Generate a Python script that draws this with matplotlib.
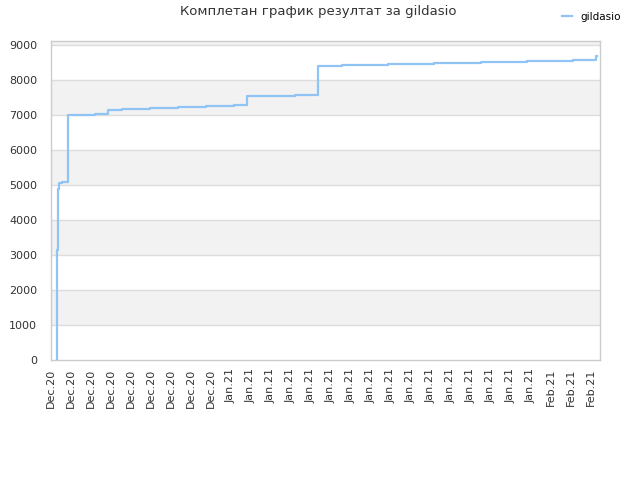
import matplotlib
matplotlib.use("Agg")
import matplotlib.pyplot as plt

# step positions (in tick units) and the score after each step
step_pos = [0.275, 0.285, 0.335, 0.385, 0.55, 0.835, 0.85, 2.2, 2.5, 2.85, 3.55,
            4.95, 6.35, 7.75, 9.15, 9.8, 12.2, 13.35, 14.55, 16.85, 19.15,
            21.5, 23.8, 26.1, 27.25, 27.3]
step_vals = [0, 3130, 4870, 5050, 5080, 5130, 7000, 7005, 7020, 7130, 7160,
             7190, 7220, 7250, 7280, 7530, 7570, 8385, 8410, 8440, 8470,
             8500, 8530, 8555, 8680, 8680]
tick_labels = ["Dec.20"] * 9 + ["Jan.21"] * 16 + ["Feb.21"] * 3
y_ticks = [0, 1000, 2000, 3000, 4000, 5000, 6000, 7000, 8000, 9000]

fig = plt.figure(figsize=(6.4, 4.8), dpi=100)
ax = fig.add_axes([51 / 640, 120 / 480, 549 / 640, 319 / 480])

ymax = 9100
# alternating bands
for i, lo in enumerate(y_ticks):
    hi = min(lo + 1000, ymax)
    if i % 2 == 1:
        ax.axhspan(lo, hi, color="#f2f2f2", zorder=0, lw=0)
for y in y_ticks[1:]:
    ax.axhline(y, color="#dddddd", lw=1, zorder=1)

ax.step(step_pos, step_vals, where="post", color="#90c4f4", lw=1.6,
        label="gildasio", zorder=3)

ax.set_xlim(0, 27.45)
ax.set_ylim(0, ymax)
ax.set_xticks(range(len(tick_labels)))
ax.set_xticklabels(tick_labels, rotation=90, fontsize=8, color="#333333")
ax.set_yticks(y_ticks)
ax.set_yticklabels([str(v) for v in y_ticks], fontsize=8, color="#333333")
ax.tick_params(length=0, pad=6)
ax.tick_params(axis="y", pad=10)

for s in ax.spines.values():
    s.set_color("#cccccc")
    s.set_linewidth(1)

fig.text(0.497, 0.975, "Комплетан график резултат за gildasio", ha="center", va="center",
         fontsize=9.5, color="#333333")
fig.legend(loc="upper right", bbox_to_anchor=(0.985, 0.995), frameon=False, fontsize=7.5,
           handlelength=1.0, handletextpad=0.8)

fig.savefig("out.png", dpi=100)
